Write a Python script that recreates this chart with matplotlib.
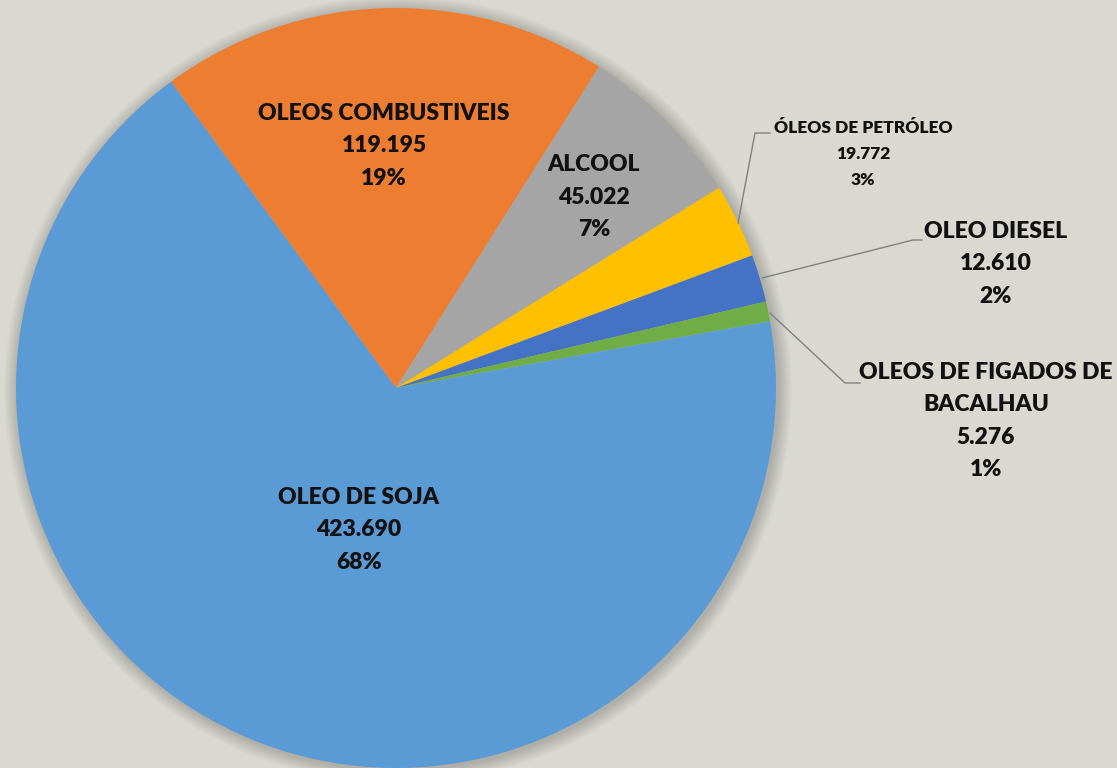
import matplotlib
matplotlib.use("Agg")
import matplotlib.pyplot as plt
from matplotlib.patches import Circle

categories = ["OLEOS COMBUSTIVEIS", "ALCOOL", "ÓLEOS DE PETRÓLEO", "OLEO DIESEL",
              "OLEOS DE FIGADOS DE\nBACALHAU", "OLEO DE SOJA"]
values = [119195, 45022, 19772, 12610, 5276, 423690]
colors = ["#ED7D31", "#A5A5A5", "#FFC000", "#4472C4", "#70AD47", "#5B9BD5"]

W, H = 1117, 768
BG = "#D9D9D1"
fig = plt.figure(figsize=(W / 100, H / 100), dpi=100, facecolor=BG)
ax = fig.add_axes([0, 0, 1, 1])
ax.set_facecolor(BG)

cx, cy, R = 396, H - 388, 380

# soft shadow
for k in range(14, 0, -1):
    ax.add_patch(Circle((cx + 2, cy - 2), R + k, color="black", alpha=0.012, lw=0, zorder=0))

ax.pie(values, colors=colors, startangle=126.3, counterclock=False,
       center=(cx, cy), radius=R, frame=True,
       wedgeprops=dict(linewidth=0), normalize=True)
ax.set_xlim(0, W)
ax.set_ylim(0, H)
ax.axis("off")

total = sum(values)

def label(i):
    v = values[i]
    return f"{categories[i]}\n{v / 1000:.3f}\n{round(100 * v / total)}%"

FONT = "Lato"
# label positions in pixels (top-origin)
pos = [(384, 146, 16.5), (594, 197, 16.5), (863, 154, 12.5), (996, 264, 16.5),
       (986, 421, 16.5), (359, 530, 16.5)]
for i, (x, y, fs) in enumerate(pos):
    ax.text(x, H - y, label(i), ha="center", va="center", fontsize=fs,
            fontweight="heavy", family=FONT, color="#111111",
            linespacing=1.65 if fs > 14 else 1.75, zorder=5)

# leader lines (pixel coords, top-origin)
leaders = [
    [(738, 223), (755, 133), (770, 133)],
    [(762, 278), (913, 240), (922, 240)],
    [(770, 313), (845, 383), (860, 383)],
]
for pts in leaders:
    ax.plot([p[0] for p in pts], [H - p[1] for p in pts], color="#808080", lw=1, zorder=4)

fig.savefig("out.png", dpi=100, facecolor=BG)
